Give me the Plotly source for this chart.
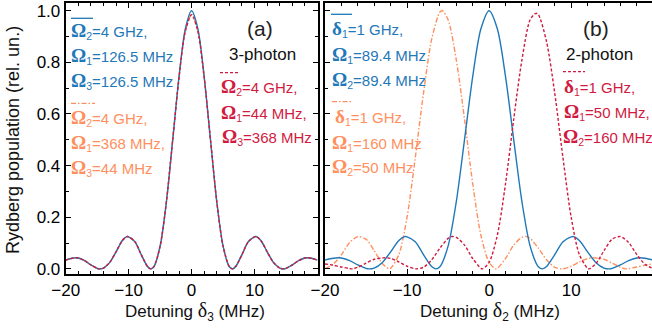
import plotly.graph_objects as go

# ---------------- data ----------------
# panel (a): 3-photon, detuning delta_3 (MHz)
a_x = [-20, -19, -18.4, -18, -17, -16, -15, -14.7, -14, -13, -12, -11, -10.3, -10, -9, -8, -7, -6.5, -6, -5,
       -4, -3, -2, -1, 0, 1, 2, 3, 4, 5, 6, 6.5, 7, 8, 9, 10, 10.3, 11, 12, 13,
       14, 14.7, 15, 16, 17, 18, 18.4, 19, 20]
a_blue = [0.034, 0.041, 0.043, 0.042, 0.032, 0.015, 0.002, 0.0, 0.003, 0.025, 0.066, 0.11, 0.125, 0.124, 0.105, 0.055, 0.009, 0.0, 0.008, 0.088,
          0.26, 0.50, 0.745, 0.93, 1.0, 0.93, 0.745, 0.50, 0.26, 0.088, 0.008, 0.0, 0.009, 0.055, 0.105, 0.124, 0.125, 0.11, 0.066, 0.025,
          0.003, 0.0, 0.002, 0.015, 0.032, 0.042, 0.043, 0.041, 0.034]
a_red = [0.034, 0.041, 0.043, 0.042, 0.032, 0.015, 0.002, 0.0, 0.003, 0.025, 0.066, 0.11, 0.125, 0.124, 0.105, 0.055, 0.009, 0.0, 0.008, 0.088,
         0.26, 0.50, 0.74, 0.92, 0.985, 0.92, 0.74, 0.50, 0.26, 0.088, 0.008, 0.0, 0.009, 0.055, 0.105, 0.124, 0.125, 0.11, 0.066, 0.025,
         0.003, 0.0, 0.002, 0.015, 0.032, 0.042, 0.043, 0.041, 0.034]
a_orange = a_red

# panel (b): 2-photon, detuning delta_2 (MHz)
b_blue_x = a_x
b_blue = a_blue

b_orange_x = [-20, -19, -18, -17, -16, -15, -14, -13, -12.2, -12, -11, -10, -9, -8, -7, -6, -5.7, -5, -4, -3,
              -2, -1, 0, 0.8, 1, 2, 3, 4, 4.6, 5, 6, 7, 8, 8.9, 10, 11, 12, 12.7, 13, 14,
              15, 16, 16.6, 17, 18, 19, 20]
b_orange = [0.001, 0.018, 0.055, 0.102, 0.125, 0.115, 0.07, 0.02, 0.0, 0.002, 0.055, 0.2, 0.43, 0.68, 0.89, 0.995, 1.0, 0.965, 0.81, 0.58,
            0.33, 0.13, 0.025, 0.0, 0.002, 0.04, 0.092, 0.122, 0.125, 0.118, 0.08, 0.035, 0.006, 0.0, 0.01, 0.027, 0.04, 0.043, 0.042, 0.037,
            0.022, 0.006, 0.0, 0.001, 0.007, 0.014, 0.019]

b_red_x = [-20, -19, -18, -17, -16.6, -16, -15, -14, -13, -12.7, -12, -11, -10, -8.9, -8, -7, -6, -5, -4.6, -4,
           -3, -2, -1, -0.8, 0, 1, 2, 3, 4, 5, 5.7, 6, 7, 8, 9, 10, 11, 12, 12.2, 13,
           14, 15, 16, 17, 18, 19, 20]
b_red = [0.019, 0.014, 0.007, 0.001, 0.0, 0.006, 0.022, 0.037, 0.042, 0.043, 0.04, 0.027, 0.01, 0.0, 0.006, 0.035, 0.08, 0.118, 0.125, 0.122,
         0.092, 0.04, 0.002, 0.0, 0.025, 0.13, 0.33, 0.58, 0.81, 0.965, 0.99, 0.985, 0.88, 0.68, 0.43, 0.2, 0.055, 0.002, 0.0, 0.02,
         0.07, 0.115, 0.125, 0.102, 0.055, 0.018, 0.001]

y_ticks = [0.0, 0.2, 0.4, 0.6, 0.8, 1.0]
a_xticks = [-20, -10, 0, 10]
b_xticks = [-20, -10, 0, 10]

# ---------------- styling ----------------
W, H = 652, 332
BLUE = "#1f78b8"
ORANGE = "#ff8f5e"
RED = "#d11a3f"
FONT = "Liberation Sans, Arial, sans-serif"
SERIF = "Liberation Serif"

def px(x):
    return x / W

def py(y):
    return 1 - y / H

fig = go.Figure()

def add(x, y, color, dash, xa, ya, width=1.4):
    fig.add_trace(go.Scatter(x=x, y=y, mode="lines", xaxis=xa, yaxis=ya,
                             line=dict(color=color, width=width, dash=dash, shape="spline", smoothing=0.8),
                             showlegend=False, hoverinfo="skip"))

DASH = "3px,2px"
DASHDOT = "5px,2px,1.5px,2px"

add(a_x, a_orange, ORANGE, DASHDOT, "x", "y")
add(a_x, a_blue, BLUE, "solid", "x", "y")
add(a_x, a_red, RED, DASH, "x", "y")

add(b_orange_x, b_orange, ORANGE, DASHDOT, "x2", "y2")
add(b_blue_x, b_blue, BLUE, "solid", "x2", "y2")
add(b_red_x, b_red, RED, DASH, "x2", "y2")

ydom = [py(274), py(3)]
common = dict(showline=True, linewidth=2, linecolor="black", ticks="inside", ticklen=5,
              tickwidth=1.3, tickcolor="black", showgrid=False, zeroline=False, automargin=False,
              tickfont=dict(family=FONT, size=17, color="black"))

fig.update_layout(
    template="none",
    width=W, height=H, margin=dict(l=0, r=0, t=0, b=0, pad=0, autoexpand=False),
    paper_bgcolor="white", plot_bgcolor="white",
    xaxis=dict(domain=[px(65.7), px(317.5)], range=[-20, 20], anchor="y", tickvals=a_xticks,
               mirror="ticks", minor=dict(ticks="inside", ticklen=3, tickcolor="black", dtick=2, tick0=0), **common),
    yaxis=dict(domain=ydom, range=[-0.02, 1.03], anchor="x", tickvals=y_ticks, tickformat=".1f",
               mirror="ticks", minor=dict(ticks="inside", ticklen=3, tickcolor="black", dtick=0.1, tick0=0), **common),
    xaxis2=dict(domain=[px(325), 1.0], range=[-20, 19.85], anchor="y2", tickvals=b_xticks,
                mirror="ticks", minor=dict(ticks="inside", ticklen=3, tickcolor="black", dtick=2, tick0=0), **common),
    yaxis2=dict(domain=ydom, range=[-0.02, 1.03], anchor="x2", tickvals=y_ticks, showticklabels=False,
                mirror=False, minor=dict(ticks="inside", ticklen=3, tickcolor="black", dtick=0.1, tick0=0), **common),
)

def text(x, y, s, color, size=15, anchor="left"):
    fig.add_annotation(x=px(x), y=py(y), xref="paper", yref="paper", text=s, showarrow=False,
                       xanchor=anchor, yanchor="middle", borderpad=0,
                       font=dict(family=FONT, size=size, color=color))

def sym(ch, n):
    return f'<span style="font-family:{SERIF};font-size:19px;font-weight:bold">{ch}</span><sub>{n}</sub>'

def sample(x0, x1, y, color, dash):
    fig.add_shape(type="line", xref="paper", yref="paper", x0=px(x0), x1=px(x1), y0=py(y), y1=py(y),
                  line=dict(color=color, width=1.3, dash=dash))

# panel (a) legend blocks
sample(71, 93, 18.3, BLUE, "solid")
text(70, 31, sym("Ω", 2) + "=4 GHz,", BLUE)
text(70, 56, sym("Ω", 1) + "=126.5 MHz", BLUE)
text(70, 81, sym("Ω", 3) + "=126.5 MHz", BLUE)

sample(71, 95, 103.3, ORANGE, DASHDOT)
text(70, 118, sym("Ω", 2) + "=4 GHz,", ORANGE)
text(70, 143, sym("Ω", 1) + "=368 MHz,", ORANGE)
text(70, 168, sym("Ω", 3) + "=44 MHz", ORANGE)

sample(220, 240, 72.7, RED, DASH)
text(220, 87.5, sym("Ω", 2) + "=4 GHz,", RED)
text(220, 112.5, sym("Ω", 1) + "=44 MHz,", RED)
text(221, 137, sym("Ω", 3) + "=368 MHz", RED)

text(259.5, 28.5, "(a)", "#222", size=21, anchor="center")
text(262.5, 54, "3-photon", "#111", size=17, anchor="center")

# panel (b) legend blocks
sample(331, 352, 14.3, BLUE, "solid")
text(331, 29, sym("δ", 1) + "=1 GHz,", BLUE)
text(331, 55, sym("Ω", 1) + "=89.4 MHz", BLUE)
text(331, 80, sym("Ω", 2) + "=89.4 MHz", BLUE)

sample(332, 352, 101.7, ORANGE, DASHDOT)
text(334, 117, sym("δ", 1) + "=1 GHz,", ORANGE)
text(331, 143, sym("Ω", 1) + "=160 MHz", ORANGE)
text(331, 167, sym("Ω", 2) + "=50 MHz", ORANGE)

sample(563, 585, 71.7, RED, DASH)
text(563, 87, sym("δ", 1) + "=1 GHz,", RED)
text(563, 112, sym("Ω", 1) + "=50 MHz,", RED)
text(562, 137, sym("Ω", 2) + "=160 MHz", RED)

text(596, 28.5, "(b)", "#222", size=21, anchor="center")
text(599, 54, "2-photon", "#111", size=17, anchor="center")

# axis titles
text(194.5, 311, f'Detuning <span style="font-family:{SERIF};font-size:20px">δ</span><sub>3</sub> (MHz)', "#111", size=17, anchor="center")
text(490, 311, f'Detuning <span style="font-family:{SERIF};font-size:20px">δ</span><sub>2</sub> (MHz)', "#111", size=17, anchor="center")
fig.add_annotation(x=px(13), y=py(140), xref="paper", yref="paper", text="Rydberg population (rel. un.)",
                   showarrow=False, textangle=-90, xanchor="center", yanchor="middle", borderpad=0,
                   font=dict(family=FONT, size=18, color="#111"))

fig.write_html("out.html", config={"displayModeBar": False},
               post_script="document.body.style.margin='0';document.body.style.padding='0';")
